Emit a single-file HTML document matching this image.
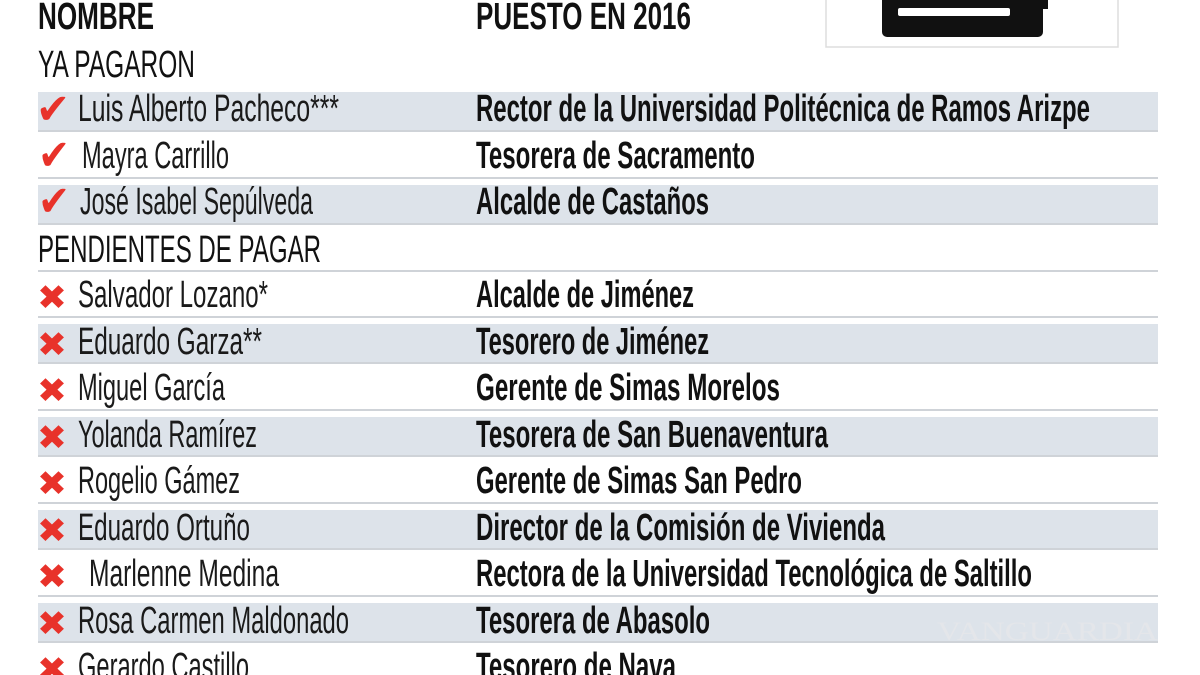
<!DOCTYPE html>
<html><head><meta charset="utf-8"><style>
html,body{margin:0;padding:0;background:#fff;width:1200px;height:675px;overflow:hidden}
svg{display:block}
.n{font-family:"Liberation Sans Narrow","Liberation Sans",sans-serif;font-size:38px;fill:#1a1a1a}
.p{font-family:"Liberation Sans Narrow","Liberation Sans",sans-serif;font-size:38px;font-weight:bold;fill:#111}
.h{font-family:"Liberation Sans Narrow","Liberation Sans",sans-serif;font-size:38px;font-weight:bold;fill:#111}
.s{font-family:"Liberation Sans Narrow","Liberation Sans",sans-serif;font-size:38px;fill:#111}
.ic{font-family:"DejaVu Sans",sans-serif;font-size:34px;fill:#e8322a}
</style></head><body>
<svg width="1200" height="675" xmlns="http://www.w3.org/2000/svg">
<rect x="826" y="-2" width="292" height="49" fill="#fff" stroke="#ddd" stroke-width="1.5"/>
<rect x="882" y="-10" width="161" height="47" rx="5" fill="#111"/>
<rect x="1040" y="-5" width="8" height="14" fill="#111"/>
<rect x="898" y="8" width="112" height="8" rx="2" fill="#fff"/>
<g fill="#dde3ea">
<rect x="38" y="92" width="1120" height="38"/>
<rect x="38" y="185" width="1120" height="38"/>
<rect x="38" y="324" width="1120" height="38"/>
<rect x="38" y="417" width="1120" height="38"/>
<rect x="38" y="510" width="1120" height="38"/>
<rect x="38" y="603" width="1120" height="38"/>
</g>
<g fill="#cfd3d8">
<rect x="38" y="130" width="1120" height="2"/>
<rect x="38" y="177" width="1120" height="2"/>
<rect x="38" y="223" width="1120" height="2"/>
<rect x="38" y="270" width="1120" height="2"/>
<rect x="38" y="316" width="1120" height="2"/>
<rect x="38" y="362" width="1120" height="2"/>
<rect x="38" y="409" width="1120" height="2"/>
<rect x="38" y="455" width="1120" height="2"/>
<rect x="38" y="502" width="1120" height="2"/>
<rect x="38" y="548" width="1120" height="2"/>
<rect x="38" y="595" width="1120" height="2"/>
<rect x="38" y="641" width="1120" height="2"/>
</g>
<text x="937" y="640" font-family="Liberation Serif,serif" font-size="26" fill="#e4e6ea" textLength="221" lengthAdjust="spacingAndGlyphs">VANGUARDIA</text>
<text class="h" x="38" y="29" textLength="116" lengthAdjust="spacingAndGlyphs">NOMBRE</text>
<text class="h" x="476" y="29" textLength="215" lengthAdjust="spacingAndGlyphs">PUESTO EN 2016</text>
<text class="s" x="38" y="77" textLength="157" lengthAdjust="spacingAndGlyphs">YA PAGARON</text>
<text class="s" x="38" y="262" textLength="283" lengthAdjust="spacingAndGlyphs">PENDIENTES DE PAGAR</text>
<g class="ic">
<text x="36" y="123" textLength="34" lengthAdjust="spacingAndGlyphs" transform="translate(0,-30) scale(1,1.25)">✔</text>
<text x="38" y="123" textLength="32" lengthAdjust="spacingAndGlyphs" transform="translate(0,16) scale(1,1.25)">✔</text>
<text x="38" y="123" textLength="32" lengthAdjust="spacingAndGlyphs" transform="translate(0,62) scale(1,1.25)">✔</text>
<text x="37" y="309" textLength="30" lengthAdjust="spacingAndGlyphs">✖</text><text x="37" y="356" textLength="30" lengthAdjust="spacingAndGlyphs">✖</text><text x="37" y="402" textLength="30" lengthAdjust="spacingAndGlyphs">✖</text><text x="37" y="449" textLength="30" lengthAdjust="spacingAndGlyphs">✖</text><text x="37" y="495" textLength="30" lengthAdjust="spacingAndGlyphs">✖</text><text x="37" y="542" textLength="30" lengthAdjust="spacingAndGlyphs">✖</text><text x="37" y="588" textLength="30" lengthAdjust="spacingAndGlyphs">✖</text><text x="37" y="635" textLength="30" lengthAdjust="spacingAndGlyphs">✖</text><text x="37" y="681" textLength="30" lengthAdjust="spacingAndGlyphs">✖</text>
</g>
<g class="n">
<text x="78" y="121" textLength="261" lengthAdjust="spacingAndGlyphs">Luis Alberto Pacheco***</text>
<text x="82" y="168" textLength="147" lengthAdjust="spacingAndGlyphs">Mayra Carrillo</text>
<text x="80" y="214" textLength="233" lengthAdjust="spacingAndGlyphs">José Isabel Sepúlveda</text>
<text x="78" y="307" textLength="190" lengthAdjust="spacingAndGlyphs">Salvador Lozano*</text>
<text x="78" y="354" textLength="184" lengthAdjust="spacingAndGlyphs">Eduardo Garza**</text>
<text x="78" y="400" textLength="147" lengthAdjust="spacingAndGlyphs">Miguel García</text>
<text x="78" y="447" textLength="179" lengthAdjust="spacingAndGlyphs">Yolanda Ramírez</text>
<text x="78" y="493" textLength="162" lengthAdjust="spacingAndGlyphs">Rogelio Gámez</text>
<text x="78" y="540" textLength="172" lengthAdjust="spacingAndGlyphs">Eduardo Ortuño</text>
<text x="89" y="586" textLength="190" lengthAdjust="spacingAndGlyphs">Marlenne Medina</text>
<text x="78" y="633" textLength="271" lengthAdjust="spacingAndGlyphs">Rosa Carmen Maldonado</text>
<text x="78" y="679" textLength="171" lengthAdjust="spacingAndGlyphs">Gerardo Castillo</text>
</g>
<g class="p">
<text x="476" y="121" textLength="614" lengthAdjust="spacingAndGlyphs">Rector de la Universidad Politécnica de Ramos Arizpe</text>
<text x="476" y="168" textLength="279" lengthAdjust="spacingAndGlyphs">Tesorera de Sacramento</text>
<text x="476" y="214" textLength="233" lengthAdjust="spacingAndGlyphs">Alcalde de Castaños</text>
<text x="476" y="307" textLength="218" lengthAdjust="spacingAndGlyphs">Alcalde de Jiménez</text>
<text x="476" y="354" textLength="233" lengthAdjust="spacingAndGlyphs">Tesorero de Jiménez</text>
<text x="476" y="400" textLength="304" lengthAdjust="spacingAndGlyphs">Gerente de Simas Morelos</text>
<text x="476" y="447" textLength="352" lengthAdjust="spacingAndGlyphs">Tesorera de San Buenaventura</text>
<text x="476" y="493" textLength="326" lengthAdjust="spacingAndGlyphs">Gerente de Simas San Pedro</text>
<text x="476" y="540" textLength="409" lengthAdjust="spacingAndGlyphs">Director de la Comisión de Vivienda</text>
<text x="476" y="586" textLength="556" lengthAdjust="spacingAndGlyphs">Rectora de la Universidad Tecnológica de Saltillo</text>
<text x="476" y="633" textLength="234" lengthAdjust="spacingAndGlyphs">Tesorera de Abasolo</text>
<text x="476" y="679" textLength="200" lengthAdjust="spacingAndGlyphs">Tesorero de Nava</text>
</g>
</svg>
</body></html>
